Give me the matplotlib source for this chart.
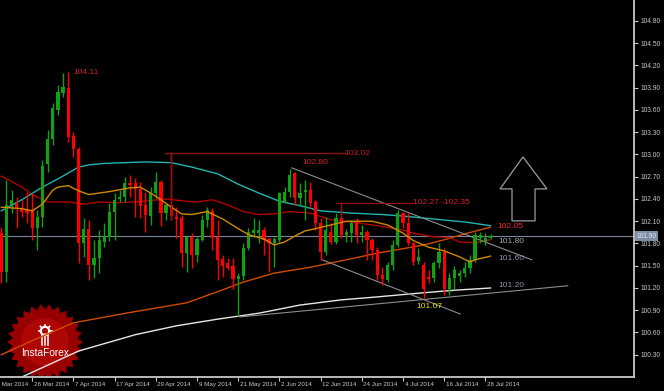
import numpy as np
import matplotlib
matplotlib.use("Agg")
import matplotlib.pyplot as plt
from matplotlib.patches import Polygon, Circle
from matplotlib.transforms import IdentityTransform, blended_transform_factory

plt.rcParams["font.family"] = ["Liberation Sans", "DejaVu Sans"]

# USD/JPY daily bars, x = bar number (0 = 14 Mar 2014, one bar per weekday)
bar_idx = list(range(2, 98))
opens = [101.94, 101.42, 102.32, 102.33, 102.27, 102.25, 102.25, 102.01, 102.16, 102.87,
         103.21, 103.60, 103.83, 103.90, 103.25, 103.07, 101.81, 102.00, 101.51, 101.61,
         101.82, 101.89, 102.23, 102.40, 102.43, 102.62, 102.62, 102.54, 102.32, 102.17,
         102.48, 102.63, 102.21, 102.32, 102.16, 102.14, 101.67, 101.89, 101.65, 101.85,
         102.12, 102.24, 101.89, 101.59, 101.54, 101.50, 101.32, 101.36, 101.74, 101.94,
         101.94, 101.98, 101.86, 101.81, 101.85, 102.36, 102.49, 102.75, 102.41, 102.49,
         102.52, 102.36, 102.08, 101.69, 101.96, 101.82, 102.15, 101.92, 101.94, 102.09,
         101.92, 101.96, 101.85, 101.71, 101.38, 101.31, 101.51, 101.78, 102.21, 102.08,
         101.81, 101.56, 101.51, 101.35, 101.33, 101.54, 101.69, 101.18, 101.33, 101.36,
         101.40, 101.47, 101.58, 101.88, 101.82, 101.88]
highs = [102.02, 102.66, 102.52, 102.43, 102.39, 102.49, 102.48, 102.25, 102.93, 103.33,
         103.69, 103.94, 104.10, 104.11, 103.30, 103.10, 102.15, 102.12, 101.85, 101.98,
         102.08, 102.35, 102.48, 102.52, 102.70, 102.73, 102.68, 102.63, 102.50, 102.56,
         102.76, 102.66, 102.35, 103.02, 102.29, 102.19, 101.92, 101.94, 101.89, 102.19,
         102.29, 102.28, 102.12, 101.65, 101.61, 101.61, 101.40, 101.81, 102.01, 102.15,
         102.12, 102.02, 101.89, 101.89, 102.50, 102.56, 102.80, 102.77, 102.62, 102.66,
         102.63, 102.39, 102.15, 102.16, 102.08, 102.21, 102.27, 101.99, 102.12, 102.15,
         102.05, 101.98, 101.87, 101.75, 101.48, 101.55, 101.85, 102.25, 102.23, 102.21,
         101.82, 101.74, 101.55, 101.44, 101.57, 101.81, 101.74, 101.40, 101.50, 101.44,
         101.55, 101.65, 101.96, 101.96, 101.94, 101.93]
lows = [101.27, 101.28, 102.21, 102.01, 102.16, 102.08, 101.85, 101.71, 102.02, 102.76,
        103.13, 103.53, 103.78, 103.17, 102.97, 101.54, 101.62, 101.31, 101.34, 101.40,
        101.75, 101.83, 101.85, 102.36, 102.36, 102.43, 102.16, 102.15, 101.96, 102.05,
        102.41, 102.04, 102.12, 102.12, 101.87, 101.48, 101.42, 101.47, 101.55, 101.83,
        102.02, 101.71, 101.31, 101.35, 101.44, 101.18, 100.82, 101.31, 101.71, 101.89,
        101.81, 101.65, 101.42, 101.48, 101.82, 102.35, 102.43, 102.32, 102.32, 102.12,
        102.28, 101.98, 101.58, 101.65, 101.79, 101.79, 101.88, 101.82, 101.82, 101.81,
        101.82, 101.58, 101.58, 101.31, 101.24, 101.28, 101.44, 101.75, 102.01, 101.78,
        101.51, 101.52, 101.07, 101.27, 101.28, 101.47, 101.11, 101.11, 101.18, 101.28,
        101.35, 101.40, 101.55, 101.81, 101.78, 101.86]
closes = [101.42, 102.32, 102.39, 102.27, 102.23, 102.21, 102.01, 102.16, 102.85, 103.21,
          103.63, 103.84, 103.91, 103.24, 103.07, 101.81, 102.00, 101.51, 101.61, 101.85,
          101.90, 102.23, 102.39, 102.43, 102.62, 102.59, 102.54, 102.30, 102.19, 102.48,
          102.63, 102.21, 102.32, 102.17, 102.13, 101.67, 101.89, 101.65, 101.86, 102.12,
          102.25, 101.87, 101.58, 101.50, 101.47, 101.32, 101.36, 101.74, 101.96, 101.98,
          101.98, 101.85, 101.81, 101.86, 102.48, 102.49, 102.73, 102.41, 102.48, 102.52,
          102.35, 102.08, 101.69, 101.98, 101.82, 102.15, 101.92, 101.95, 102.08, 101.92,
          101.96, 101.85, 101.71, 101.37, 101.32, 101.51, 101.78, 102.21, 102.08, 101.81,
          101.55, 101.62, 101.18, 101.32, 101.54, 101.69, 101.18, 101.34, 101.44, 101.40,
          101.47, 101.58, 101.92, 101.92, 101.88, 101.90]

# moving averages, read at a few bars
cyan_idx = [2, 6, 10, 14, 17, 19, 22, 30, 35, 39, 44, 48, 52, 56, 60, 64, 70, 76, 80, 86, 92, 97]
cyan_val = [102.24, 102.39, 102.56, 102.71, 102.83, 102.86, 102.88, 102.90, 102.89, 102.83, 102.74,
            102.60, 102.48, 102.37, 102.31, 102.24, 102.21, 102.19, 102.17, 102.13, 102.09, 102.04]
orange_idx = [2, 6, 8, 10, 12, 13, 15, 17, 19, 21, 23, 27, 29, 31, 33, 35, 37, 39, 42, 45,
              48, 50, 53, 55, 57, 59, 61, 63, 66, 69, 74, 77, 80, 82, 85, 88, 91, 93, 94, 97]
orange_val = [102.29, 102.27, 102.24, 102.33, 102.52, 102.56, 102.58, 102.51, 102.46, 102.48,
              102.50, 102.55, 102.56, 102.48, 102.39, 102.29, 102.20, 102.19, 102.23, 102.13,
              102.00, 101.92, 101.86, 101.78, 101.82, 101.90, 101.97, 102.00, 102.05, 102.10,
              102.10, 102.05, 101.94, 101.84, 101.75, 101.70, 101.62, 101.55, 101.58, 101.63]
darkred_idx = [2, 6, 8, 11, 15, 18, 21, 25, 28, 34, 38, 40, 43, 46, 49, 52, 55, 58, 62, 66,
               70, 74, 78, 80, 82, 86, 89, 91, 94, 97]
darkred_val = [102.71, 102.56, 102.46, 102.36, 102.36, 102.33, 102.36, 102.35, 102.36, 102.40,
               102.37, 102.36, 102.39, 102.32, 102.23, 102.19, 102.20, 102.23, 102.21, 102.12,
               102.09, 102.05, 102.01, 101.98, 101.94, 101.89, 101.88, 101.82, 101.81, 101.85]
orangered_idx = [2, 8, 16, 27, 38, 44, 49, 55, 62, 69, 75, 80, 84, 88, 92, 97]
orangered_val = [100.30, 100.49, 100.73, 100.87, 101.00, 101.15, 101.28, 101.40, 101.48, 101.58,
                 101.67, 101.73, 101.78, 101.85, 101.93, 102.02]
white_idx = [2, 6, 17, 28, 36, 44, 52, 60, 68, 75, 83, 90, 97]
white_val = [99.89, 100.00, 100.35, 100.57, 100.69, 100.78, 100.86, 100.97, 101.04, 101.08,
             101.13, 101.17, 101.20]

# trend lines (bar, price) pairs
trend_lines = [((58.4, 102.82), (105.0, 101.58)),
               ((64.3, 101.58), (91.1, 100.85)),
               ((48.35, 100.81), (112.0, 101.23))]

last_price = 101.90
ytick_vals = [100.30, 100.60, 100.90, 101.20, 101.50, 101.80, 102.10, 102.40,
              102.70, 103.00, 103.30, 103.60, 103.90, 104.20, 104.50, 104.80]
xtick_pos = [0, 8, 16, 24, 32, 40, 48, 56, 64, 72, 80, 88, 96]
xtick_labels = ["14 Mar 2014", "26 Mar 2014", "7 Apr 2014", "17 Apr 2014", "29 Apr 2014",
                "9 May 2014", "21 May 2014", "2 Jun 2014", "12 Jun 2014", "24 Jun 2014",
                "4 Jul 2014", "16 Jul 2014", "28 Jul 2014"]

# level notes: (bar, price, text, colour)
notes = [(15.9, 104.10, "104.11", "#d42030"),
         (68.7, 103.01, "103.02", "#c41c28"),
         (60.4, 102.89, "102.80", "#e02020"),
         (82.0, 102.35, "102.27 -102.35", "#e01e28"),
         (98.3, 102.03, "102.05", "#ff2424"),
         (98.45, 101.83, "101.80", "#a4a8b8"),
         (98.45, 101.60, "101.60", "#8c94ac"),
         (98.45, 101.23, "101.20", "#8c94ac"),
         (82.5, 100.95, "101.07", "#f0e000")]

arrow_x = [103.3, 98.84, 101.17, 101.17, 105.64, 105.64, 107.96]
arrow_y = [102.967, 102.536, 102.536, 102.105, 102.105, 102.536, 102.536]

GREEN = "#12a012"
RED = "#ff0000"
AXC = "#c8c8c8"

fig = plt.figure(figsize=(6.64, 3.91), dpi=100, facecolor="black")
ax = fig.add_axes([0, 14 / 391, 634 / 664, 377 / 391], facecolor="black")
ax.set_xlim(1.75, 124.86)
ax.set_ylim(100.0, 105.083)

# logo, in pixels (drawn under everything)
cx, cy = 45, 391 - 342
ang = np.linspace(0, 2 * np.pi, 53)[:-1]
rad = np.where(np.arange(52) % 2 == 0, 38, 32.5)
star = np.column_stack([cx + rad * np.cos(ang), cy + rad * np.sin(ang)])
tr = IdentityTransform()
ax.add_patch(Polygon(star, closed=True, fc="#980000", ec="none", transform=tr, zorder=0.5))
ax.add_patch(Circle((cx, cy), 24, fc="#b80808", ec="none", alpha=0.7, transform=tr, zorder=0.6))
ax.add_patch(Circle((cx, 391 - 331), 4.2, fill=False, ec="white", lw=1.5, transform=tr, zorder=0.7))
for a in np.linspace(0, np.pi, 5):
    ax.plot([cx + 4.2 * np.cos(a), cx + 6.5 * np.cos(a)],
            [391 - 331 + 4.2 * np.sin(a), 391 - 331 + 6.5 * np.sin(a)],
            color="white", lw=1.2, transform=tr, zorder=0.7)
for dx in (-3, 0, 3):
    ax.plot([cx + dx, cx + dx], [391 - 334, 391 - 345], color="white", lw=1.1,
            transform=tr, zorder=0.7)
ax.text(cx, 391 - 353, "InstaForex", color="white", fontsize=7.3, ha="center", va="center",
        transform=tr, zorder=0.8)

# moving averages
ax.plot(white_idx, white_val, color="#e6e6e6", lw=1.0, zorder=2)
ax.plot(orangered_idx, orangered_val, color="#d04a00", lw=1.0, zorder=2)
ax.plot(darkred_idx, darkred_val, color="#b00000", lw=1.0, zorder=2)
ax.plot(cyan_idx, cyan_val, color="#1fb5b0", lw=1.0, zorder=2)
ax.plot(orange_idx, orange_val, color="#d08a00", lw=1.0, zorder=5)

for (x0, y0), (x1, y1) in trend_lines:
    ax.plot([x0, x1], [y0, y1], color="#8c8c8c", lw=0.8, zorder=2)

ax.axhline(last_price, color="#7a8698", lw=0.8, zorder=1.5)

# candles
o, h, l, c = map(np.array, (opens, highs, lows, closes))
col = np.where(c >= o, GREEN, RED)
ax.vlines(bar_idx, l, h, colors=col, lw=1.0, zorder=3)
ax.bar(bar_idx, np.maximum(np.abs(c - o), 0.014), bottom=np.minimum(o, c), width=0.62,
       color=col, lw=0, zorder=4)

# high brackets
ax.plot([33.8, 68.7], [103.02, 103.02], color="#8e1414", lw=1.0, zorder=6)
ax.plot([35, 35], [103.02, 102.15], color="#8e1414", lw=1.0, zorder=6)
ax.plot([67, 81.9], [102.35, 102.35], color="#8e1414", lw=1.0, zorder=6)
ax.plot([68, 68], [102.35, 102.16], color="#8e1414", lw=1.0, zorder=6)

for x, y, s, cc in notes:
    ax.text(x, y, s, color=cc, fontsize=6, ha="left", va="center", zorder=7)

ax.add_patch(Polygon(np.column_stack([arrow_x, arrow_y]), closed=True, fill=False,
                     ec="#9c9c9c", lw=0.9, zorder=6))

# axes look
for side in ("top", "left"):
    ax.spines[side].set_visible(False)
for side in ("right", "bottom"):
    ax.spines[side].set_color(AXC)
    ax.spines[side].set_linewidth(1.3)

ax.yaxis.tick_right()
ax.set_yticks(ytick_vals)
ax.set_yticklabels([f"{v:.2f}" for v in ytick_vals])
ax.tick_params(axis="y", direction="out", length=3, width=0.8, colors=AXC,
               labelsize=4.8, pad=1.5)
ax.set_xticks([p for p in xtick_pos if p > 1.75])
ax.set_xticklabels([])
ax.tick_params(axis="x", direction="out", length=3, width=0.8, colors=AXC)

btr = blended_transform_factory(ax.transData, ax.transAxes)
for p, s in zip(xtick_pos, xtick_labels):
    ax.text(p + 0.3, -0.019, s, transform=btr, color=AXC, fontsize=4.5,
            ha="left", va="center", clip_on=False)

ytr = blended_transform_factory(ax.transAxes, ax.transData)
ax.text(1.004, last_price, f"{last_price:.2f}", transform=ytr, fontsize=4.8, color="#e6ecf2",
        ha="left", va="center", clip_on=False,
        bbox=dict(boxstyle="square,pad=0.2", fc="#7d8da3", ec="none"))

fig.savefig("out.png", dpi=100, facecolor="black")
plt.close(fig)
